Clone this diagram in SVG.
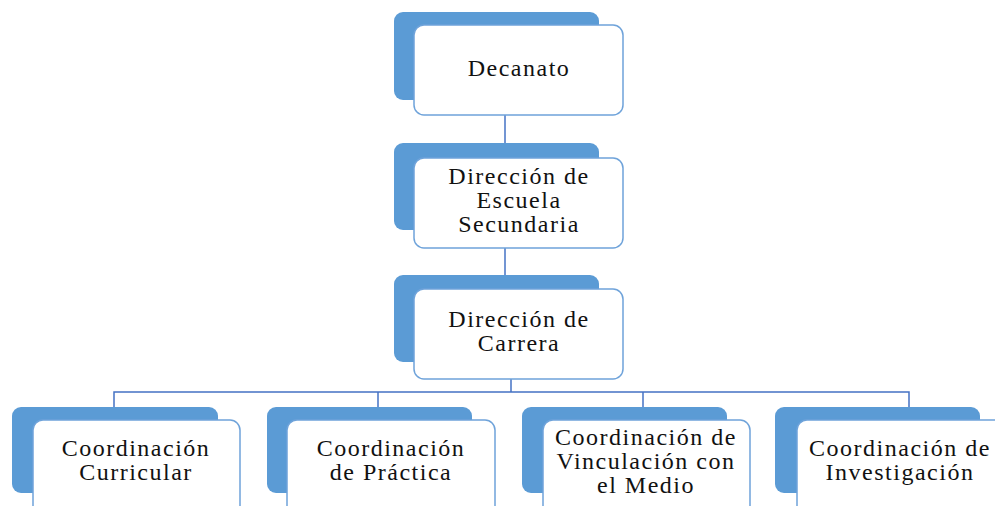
<svg xmlns="http://www.w3.org/2000/svg" width="995" height="506" viewBox="0 0 995 506">
<style>
.back{fill:#5B9BD5}
.front{fill:#FFFFFF;stroke:#6FA3DA;stroke-width:1.5}
.t{font-family:'Liberation Serif','DejaVu Serif','Times New Roman',Times,serif;font-size:24px;fill:#111;text-anchor:middle;letter-spacing:1.5px}
.c{stroke:#4472C4;stroke-width:1.5;fill:none}
</style>
<rect width="995" height="506" fill="#FFFFFF"/>
<g id="connectors">
<line class="c" x1="505" y1="115" x2="505" y2="158"/>
<line class="c" x1="505" y1="248" x2="505" y2="289"/>
<line class="c" x1="511" y1="379" x2="511" y2="392"/>
<polyline class="c" points="114,420 114,392 909,392 909,420"/>
<line class="c" x1="378" y1="392" x2="378" y2="420"/>
<line class="c" x1="643" y1="392" x2="643" y2="420"/>
</g>
<g id="decanato">
<rect class="back" x="394" y="12" width="205" height="88" rx="9"/>
<rect class="front" x="414" y="25" width="209" height="90" rx="10"/>
<text class="t" x="519" y="76">Decanato</text>
</g>
<g id="direccion-escuela">
<rect class="back" x="394" y="143" width="205" height="87" rx="9"/>
<rect class="front" x="414" y="158" width="209" height="90" rx="10"/>
<text class="t" x="519" y="184">Dirección de</text>
<text class="t" x="519" y="208">Escuela</text>
<text class="t" x="519" y="232">Secundaria</text>
</g>
<g id="direccion-carrera">
<rect class="back" x="394" y="275" width="205" height="87" rx="9"/>
<rect class="front" x="414" y="289" width="209" height="90" rx="10"/>
<text class="t" x="519" y="327">Dirección de</text>
<text class="t" x="519" y="351">Carrera</text>
</g>
<g id="coord-curricular">
<rect class="back" x="12" y="407" width="206" height="86" rx="9"/>
<rect class="front" x="33" y="420" width="207" height="100" rx="10"/>
<text class="t" x="136" y="456">Coordinación</text>
<text class="t" x="136" y="480">Curricular</text>
</g>
<g id="coord-practica">
<rect class="back" x="267" y="407" width="205" height="86" rx="9"/>
<rect class="front" x="287" y="420" width="208" height="100" rx="10"/>
<text class="t" x="391" y="456">Coordinación</text>
<text class="t" x="391" y="480">de Práctica</text>
</g>
<g id="coord-vinculacion">
<rect class="back" x="522" y="407" width="205" height="86" rx="9"/>
<rect class="front" x="543" y="420" width="207" height="100" rx="10"/>
<text class="t" x="646" y="445">Coordinación de</text>
<text class="t" x="646" y="469">Vinculación con</text>
<text class="t" x="646" y="493">el Medio</text>
</g>
<g id="coord-investigacion">
<rect class="back" x="775" y="407" width="205" height="86" rx="9"/>
<rect class="front" x="797" y="420" width="207" height="100" rx="10"/>
<text class="t" x="900" y="456">Coordinación de</text>
<text class="t" x="900" y="480">Investigación</text>
</g>
</svg>
